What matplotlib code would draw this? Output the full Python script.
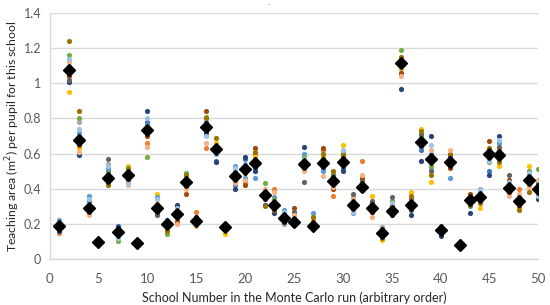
import matplotlib
matplotlib.use('Agg')
import matplotlib.pyplot as plt

plt.rcParams['font.family'] = ['Lato', 'DejaVu Sans']

schools = list(range(1, 51))

# average over all Monte Carlo runs (black diamonds)
mean_area = [0.19, 1.075, 0.68, 0.29, 0.095, 0.463, 0.152, 0.476, 0.093, 0.734,
             0.29, 0.197, 0.256, 0.44, 0.218, 0.753, 0.624, 0.18, 0.47, 0.51,
             0.545, 0.364, 0.307, 0.235, 0.212, 0.54, 0.188, 0.545, 0.446, 0.554,
             0.31, 0.408, 0.288, 0.146, 0.275, 1.117, 0.31, 0.668, 0.57, 0.165,
             0.55, 0.08, 0.336, 0.35, 0.60, 0.59, 0.406, 0.33, 0.45, 0.40]

# individual runs (coloured dots)
run1 = [.21, 1.05, .66, .33, .10, .50, .19, .47, .095, .78, .30, .22, .30, .46, .23, .78, .56, .19, .42, .57,
        .52, .35, .30, .22, .21, .56, .19, .52, .46, .52, .30, .40, .27, .15, .28, 1.10, .32, .62, .60, .17,
        .58, .08, .32, .36, .50, .61, .41, .32, .46, .38]
run2 = [.15, 1.10, .70, .27, .09, .47, .14, .44, .09, .66, .27, .20, .22, .43, .27, .63, .64, .17, .45, .44,
        .60, .38, .40, .24, .23, .53, .18, .62, .36, .61, .28, .56, .30, .13, .27, 1.12, .33, .66, .56, .16,
        .55, .08, .35, .37, .62, .62, .39, .40, .44, .41]
run3 = [.19, 1.13, .78, .30, .095, .54, .15, .50, .10, .73, .29, .21, .25, .45, .21, .75, .62, .18, .50, .50,
        .55, .37, .33, .20, .22, .51, .20, .55, .44, .57, .35, .43, .28, .18, .31, 1.08, .30, .69, .52, .18,
        .53, .085, .36, .40, .60, .58, .40, .33, .42, .43]
run4 = [.18, .95, .63, .29, .09, .43, .13, .53, .09, .71, .37, .17, .26, .47, .22, .74, .66, .14, .47, .52,
        .58, .39, .32, .23, .24, .54, .22, .58, .49, .65, .32, .41, .36, .11, .29, 1.09, .38, .74, .44, .16,
        .57, .08, .34, .29, .58, .53, .37, .29, .53, .40]
run5 = [.22, 1.08, .72, .36, .10, .52, .16, .49, .095, .76, .35, .19, .28, .42, .20, .77, .61, .18, .53, .46,
        .46, .36, .35, .28, .22, .60, .26, .50, .45, .55, .26, .42, .31, .14, .30, 1.13, .31, .64, .59, .19,
        .46, .085, .30, .38, .57, .66, .42, .35, .47, .39]
run6 = [.17, 1.16, .80, .28, .095, .49, .10, .52, .10, .58, .28, .14, .24, .49, .22, .81, .60, .17, .49, .53,
        .57, .43, .34, .25, .21, .58, .19, .54, .48, .60, .33, .45, .29, .16, .33, 1.19, .29, .70, .53, .17,
        .56, .08, .33, .34, .55, .57, .43, .31, .50, .51]
run7 = [.16, 1.01, .59, .26, .09, .45, .18, .46, .09, .84, .31, .21, .31, .41, .24, .72, .55, .20, .40, .58,
        .50, .31, .26, .26, .20, .64, .18, .56, .42, .50, .29, .39, .32, .13, .25, .97, .25, .56, .70, .13,
        .59, .08, .26, .35, .48, .70, .38, .34, .45, .34]
run8 = [.20, 1.04, .65, .31, .10, .44, .14, .45, .095, .70, .26, .18, .21, .37, .23, .84, .63, .19, .46, .42,
        .63, .34, .31, .21, .29, .52, .21, .63, .40, .58, .31, .46, .27, .15, .30, 1.06, .34, .67, .58, .15,
        .52, .08, .37, .33, .67, .60, .45, .30, .43, .42]
run9 = [.19, 1.02, .69, .29, .095, .57, .15, .48, .10, .74, .25, .20, .25, .44, .21, .76, .62, .18, .48, .51,
        .54, .38, .29, .24, .27, .44, .20, .57, .47, .56, .37, .44, .33, .17, .35, 1.11, .28, .71, .50, .17,
        .55, .085, .34, .36, .61, .64, .48, .36, .48, .44]
run10 = [.18, 1.24, .84, .30, .10, .42, .16, .51, .09, .72, .29, .16, .27, .48, .20, .80, .69, .17, .44, .49,
         .61, .30, .28, .22, .23, .55, .24, .60, .50, .59, .30, .41, .30, .12, .26, 1.15, .36, .73, .48, .16,
         .60, .08, .31, .32, .63, .55, .40, .28, .38, .37]
run11 = [.20, 1.12, .61, .25, .10, .48, .17, .42, .10, .64, .32, .19, .20, .40, .19, .66, .65, .18, .43, .45,
         .56, .40, .38, .23, .25, .50, .17, .47, .41, .54, .34, .48, .24, .14, .28, 1.04, .30, .68, .62, .18,
         .62, .08, .35, .37, .59, .59, .36, .37, .41, .45]
run12 = [.17, 1.14, .74, .34, .09, .53, .12, .43, .09, .80, .34, .22, .29, .45, .22, .70, .60, .19, .52, .54,
         .53, .36, .33, .27, .21, .57, .19, .53, .43, .62, .27, .40, .28, .16, .32, 1.10, .33, .65, .65, .17,
         .54, .085, .33, .39, .56, .68, .44, .33, .49, .36]

runs = [run1, run2, run3, run4, run5, run6, run7, run8, run9, run10, run11, run12]
run_colors = ['#4472C4', '#ED7D31', '#A5A5A5', '#FFC000', '#5B9BD5', '#70AD47',
              '#264478', '#9E480E', '#636363', '#997300', '#F4B183', '#9DC3E6']

x_ticks = [0, 5, 10, 15, 20, 25, 30, 35, 40, 45, 50]
y_ticks = [0, 0.2, 0.4, 0.6, 0.8, 1.0, 1.2, 1.4]
y_tick_labels = ['0', '0.2', '0.4', '0.6', '0.8', '1', '1.2', '1.4']

fig = plt.figure(figsize=(5.5, 3.05), dpi=100)
ax = fig.add_axes([0.09, 0.151, 0.8887, 0.806])

for vals, c in zip(runs, run_colors):
    ax.scatter(schools, vals, s=14, color=c, linewidths=0, zorder=2)
ax.plot(schools, mean_area, linestyle='none', marker='D', markersize=6,
        color='black', zorder=3)

ax.set_xlim(0, 50)
ax.set_ylim(0, 1.4)
ax.set_xticks(x_ticks)
ax.set_yticks(y_ticks)
ax.set_yticklabels(y_tick_labels)
ax.tick_params(length=0, labelsize=9, colors='#595959', pad=6)
ax.tick_params(axis='x', pad=10, labelsize=9.5)
ax.grid(axis='y', color='#d9d9d9', linewidth=1)
ax.set_axisbelow(True)
for s in ['top', 'right']:
    ax.spines[s].set_visible(False)
for s in ['left', 'bottom']:
    ax.spines[s].set_color('#d9d9d9')
    ax.spines[s].set_linewidth(1)

ax.set_xlabel('School Number in the Monte Carlo run (arbitrary order)', fontsize=9, color='#262626', labelpad=5)
ax.set_ylabel('Teaching area (m$^2$) per pupil for this school', fontsize=8.8, color='#262626',
              va='center')
ax.yaxis.set_label_coords(-0.076, 0.5)

fig.text(268 / 550, 1 - 5 / 305, '–', fontsize=5, color='#a0a0a0', ha='center', va='center')

fig.savefig('out.png', dpi=100)
